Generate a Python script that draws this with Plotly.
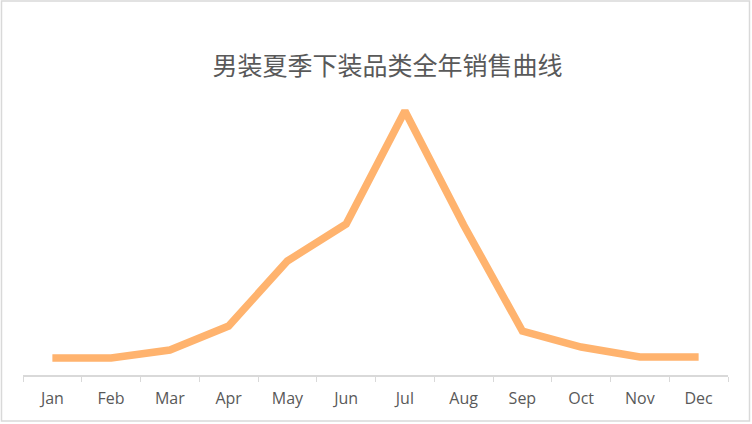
"""Annual sales curve for men's summer bottoms, Excel-style line chart."""

import plotly.graph_objects as go

months = ["Jan", "Feb", "Mar", "Apr", "May", "Jun", "Jul", "Aug", "Sep", "Oct", "Nov", "Dec"]
sales = [17, 17, 25, 49, 114, 151, 264, 150, 44, 28, 18, 18]

title_text = "男装夏季下装品类全年销售曲线"

fig = go.Figure()
fig.add_trace(
    go.Scatter(
        x=months,
        y=sales,
        mode="lines",
        line=dict(color="#FFB36E", width=7.5),
        hoverinfo="x+y",
        showlegend=False,
    )
)

fig.update_layout(
    width=752,
    height=424,
    paper_bgcolor="white",
    plot_bgcolor="white",
    margin=dict(l=23, r=24, t=75, b=49),
    title=dict(
        text=title_text,
        x=0.517,
        xref="paper",
        xanchor="center",
        y=1 - 66 / 424,
        yanchor="middle",
        font=dict(family="Noto Sans CJK SC", size=25, color="#595959"),
    ),
    shapes=[
        dict(
            type="rect",
            xref="paper",
            yref="paper",
            x0=-0.0305,
            x1=1.0305,
            y0=-0.1533,
            y1=1.2467,
            line=dict(color="#D9D9D9", width=1.5),
            layer="below",
        )
    ],
)

fig.update_xaxes(
    range=[-0.5, len(months) - 0.5],
    showline=True,
    linecolor="#D9D9D9",
    linewidth=1.5,
    showgrid=False,
    ticks="outside",
    tickson="boundaries",
    ticklen=5,
    tickcolor="#D9D9D9",
    ticklabelstandoff=8,
    tickfont=dict(family="Open Sans", size=16, color="#595959"),
    fixedrange=True,
)
fig.update_yaxes(
    range=[0, 300],
    visible=False,
    showgrid=False,
    zeroline=False,
    fixedrange=True,
)

# browser default body margin would shift the chart by 8px
fig.write_html(
    "out.html",
    config=dict(displayModeBar=False),
    post_script="document.body.style.margin='0';",
)
